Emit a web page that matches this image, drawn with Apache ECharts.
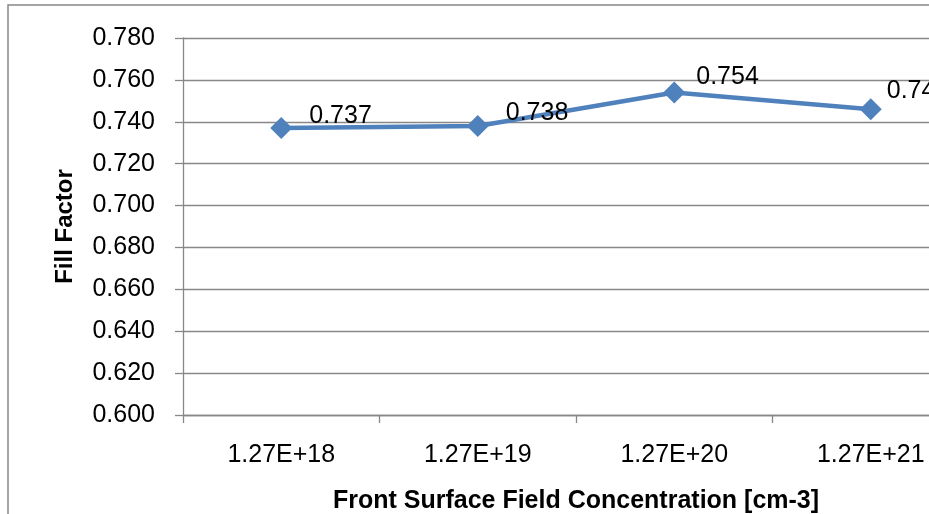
<!DOCTYPE html>
<html>
<head>
<meta charset="utf-8">
<script src="https://cdn.jsdelivr.net/npm/echarts@6/dist/echarts.min.js"></script>
<style>
  html, body { margin: 0; padding: 0; background: #fff; overflow: hidden; }
  #chart { width: 929px; height: 514px; }
</style>
</head>
<body>
<div id="chart"></div>
<script>
// Fill factor versus front surface field doping concentration
const categories = ['1.27E+18', '1.27E+19', '1.27E+20', '1.27E+21'];
const fillFactor = [0.737, 0.738, 0.754, 0.746];
const yMin = 0.600;
const yMax = 0.780;
const yStep = 0.020;

// per-point label nudges (px) so labels sit to the upper right of each marker
const labelNudge = [[12, -12], [12, -13], [6, -15], [0, -18]];

const FONT = 'Liberation Sans';
const GRAY = '#888888';

const chart = echarts.init(document.getElementById('chart'), null, { renderer: 'canvas' });

chart.setOption({
  animation: false,
  backgroundColor: '#ffffff',
  graphic: [{
    type: 'rect',
    shape: { x: 8, y: 5, width: 1000, height: 600 },
    style: { fill: 'none', stroke: GRAY, lineWidth: 1.5 },
    silent: true,
    z: -1
  }],
  // plot area runs past the right edge of the canvas
  grid: {
    left: 183, top: 38, width: 786, height: 377,
    containLabel: false,
    outerBoundsMode: 'none'
  },
  xAxis: {
    type: 'category',
    data: categories,
    boundaryGap: true,
    axisLine: { show: true, lineStyle: { color: GRAY, width: 1.3 } },
    axisTick: { show: true, alignWithLabel: false, length: 8, lineStyle: { color: GRAY, width: 1.3 } },
    axisLabel: { color: '#000', fontFamily: FONT, fontSize: 25, margin: 28 },
    splitLine: { show: false },
    name: 'Front Surface Field Concentration [cm-3]',
    nameLocation: 'middle',
    nameGap: 74,
    nameTextStyle: { color: '#000', fontFamily: FONT, fontSize: 25, fontWeight: 'bold' }
  },
  yAxis: {
    type: 'value',
    min: yMin,
    max: yMax,
    interval: yStep,
    axisLine: { show: true, lineStyle: { color: GRAY, width: 1.3 } },
    axisTick: { show: true, length: 8, lineStyle: { color: GRAY, width: 1.3 } },
    axisLabel: {
      color: '#000', fontFamily: FONT, fontSize: 25, margin: 28,
      formatter: v => v.toFixed(3)
    },
    splitLine: { show: true, lineStyle: { color: GRAY, width: 1.3 } },
    name: 'Fill Factor',
    nameLocation: 'middle',
    nameGap: 106,
    nameRotate: 90,
    nameTextStyle: { color: '#000', fontFamily: FONT, fontSize: 24, fontWeight: 'bold' }
  },
  series: [{
    type: 'line',
    data: fillFactor.map((v, i) => ({
      value: v,
      label: { offset: labelNudge[i] }
    })),
    symbol: 'diamond',
    symbolSize: 22,
    lineStyle: { color: '#4F81BD', width: 4.5 },
    itemStyle: { color: '#4F81BD' },
    label: {
      show: true,
      position: 'right',
      color: '#000',
      fontFamily: FONT,
      fontSize: 25,
      formatter: p => p.value.toFixed(3)
    },
    clip: false
  }]
});
</script>
</body>
</html>
